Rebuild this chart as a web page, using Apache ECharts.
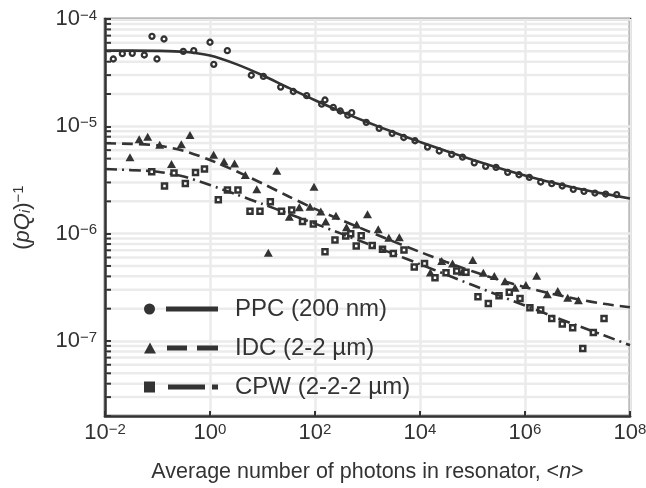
<!DOCTYPE html>
<html>
<head>
<meta charset="utf-8">
<script src="https://cdn.jsdelivr.net/npm/echarts@6/dist/echarts.min.js"></script>
<style>
  html, body { margin: 0; padding: 0; background: #ffffff; }
  #chart { width: 646px; height: 488px; }
</style>
</head>
<body>
<div id="chart"></div>
<script>
// ---------------- data ----------------
// x: average photon number <n>, y: (pQi)^-1
const ppcN = [1.44e-2, 2.14e-2, 3.31e-2, 5.61e-2, 7.85e-2, 9.77e-2, 0.133, 0.310, 0.490, 1.00,
  1.18, 2.14, 6.12, 10.4, 22.2, 38.6, 69.5, 134, 155, 223,
  303, 422, 500, 948, 1670, 2950, 4900, 8040, 1.39e4, 2.33e4,
  4.02e4, 6.46e4, 1.08e5, 1.78e5, 2.81e5, 4.68e5, 7.69e5, 1.21e6, 1.99e6, 3.23e6,
  5.13e6, 8.32e6, 1.33e7, 2.15e7, 3.44e7, 5.58e7];
const ppcQ = [4.24e-5, 4.75e-5, 4.79e-5, 4.62e-5, 6.90e-5, 4.24e-5, 6.51e-5, 5.00e-5, 5.07e-5, 6.07e-5,
  3.78e-5, 5.07e-5, 2.99e-5, 2.92e-5, 2.32e-5, 2.11e-5, 1.93e-5, 1.61e-5, 1.76e-5, 1.50e-5,
  1.39e-5, 1.27e-5, 1.34e-5, 1.09e-5, 9.58e-6, 8.61e-6, 7.87e-6, 7.34e-6, 6.41e-6, 5.89e-6,
  5.48e-6, 5.17e-6, 4.57e-6, 4.24e-6, 4.15e-6, 3.73e-6, 3.54e-6, 3.35e-6, 3.03e-6, 2.92e-6,
  2.78e-6, 2.59e-6, 2.48e-6, 2.39e-6, 2.34e-6, 2.31e-6];

const idcN = [2.99e-2, 4.48e-2, 6.50e-2, 0.110, 0.185, 0.284, 0.416, 1.17, 1.85, 2.93,
  4.70, 7.78, 12.9, 18.7, 32.4, 50.2, 80.4, 95.7, 129, 160,
  251, 398, 622, 1000, 1600, 2550, 4040, 1.58e4, 2.59e4, 4.16e4,
  6.40e4, 1.01e5, 1.61e5, 2.60e5, 4.16e5, 6.46e5, 1.04e6, 1.67e6, 2.66e6, 4.20e6,
  6.50e6, 1.04e7];
const idcQ = [5.14e-6, 7.57e-6, 8.00e-6, 6.75e-6, 4.45e-6, 6.80e-6, 8.30e-6, 5.43e-6, 4.70e-6, 4.50e-6,
  3.52e-6, 2.59e-6, 6.64e-7, 3.86e-6, 1.44e-6, 1.76e-6, 1.78e-6, 2.74e-6, 1.61e-6, 1.30e-6,
  1.47e-6, 1.15e-6, 1.22e-6, 1.52e-6, 1.10e-6, 9.16e-7, 9.24e-7, 4.34e-7, 5.56e-7, 5.28e-7,
  4.42e-7, 5.68e-7, 4.32e-7, 4.03e-7, 3.61e-7, 3.13e-7, 3.32e-7, 4.05e-7, 2.72e-7, 2.92e-7,
  2.53e-7, 2.40e-7];

const cpwN = [7.76e-2, 0.136, 0.206, 0.339, 0.530, 0.785, 1.44, 2.15, 3.41, 5.78,
  8.95, 14.1, 23.0, 36.0, 57.8, 92.9, 155, 240, 385, 479,
  610, 759, 1230, 1930, 3100, 4950, 7780, 1.22e4, 1.93e4, 3.13e4,
  5.00e4, 7.52e4, 1.27e5, 2.00e5, 3.20e5, 5.02e5, 8.04e5, 1.24e6, 1.99e6, 3.23e6,
  5.13e6, 8.09e6, 1.26e7, 2.00e7, 3.20e7];
const cpwQ = [3.78e-6, 2.78e-6, 3.67e-6, 2.94e-6, 3.71e-6, 4.00e-6, 2.07e-6, 2.55e-6, 2.55e-6, 1.62e-6,
  1.62e-6, 1.98e-6, 1.62e-6, 1.66e-6, 1.30e-6, 1.23e-6, 6.78e-7, 8.71e-7, 9.50e-7, 1.00e-6,
  7.69e-7, 9.54e-7, 7.74e-7, 7.14e-7, 6.53e-7, 7.03e-7, 4.89e-7, 5.28e-7, 3.88e-7, 4.32e-7,
  4.48e-7, 4.37e-7, 2.58e-7, 2.24e-7, 2.64e-7, 2.84e-7, 2.49e-7, 2.04e-7, 1.94e-7, 1.62e-7,
  1.44e-7, 1.33e-7, 8.53e-8, 1.20e-7, 1.62e-7];

// fitted curves, every half decade
const fitN = [1e-2, 3.16e-2, 1e-1, 3.16e-1, 1, 3.16, 10, 31.6, 100, 316, 1e3,
  3.16e3, 1e4, 3.16e4, 1e5, 3.16e5, 1e6, 3.16e6, 1e7, 3.16e7, 1e8];
const ppcFit = [5.07e-5, 5.07e-5, 5.05e-5, 4.95e-5, 4.57e-5, 3.80e-5, 2.99e-5, 2.28e-5, 1.75e-5, 1.37e-5, 1.09e-5,
  8.79e-6, 7.16e-6, 5.89e-6, 4.89e-6, 4.10e-6, 3.49e-6, 3.01e-6, 2.64e-6, 2.36e-6, 2.13e-6];
const idcFit = [6.95e-6, 6.87e-6, 6.64e-6, 5.92e-6, 4.86e-6, 3.82e-6, 2.93e-6, 2.22e-6, 1.70e-6, 1.34e-6, 1.06e-6,
  8.43e-7, 6.75e-7, 5.45e-7, 4.46e-7, 3.72e-7, 3.17e-7, 2.76e-7, 2.45e-7, 2.22e-7, 2.06e-7];
const cpwFit = [4.00e-6, 3.91e-6, 3.78e-6, 3.40e-6, 2.84e-6, 2.32e-6, 1.89e-6, 1.53e-6, 1.24e-6, 1.00e-6, 8.05e-7,
  6.47e-7, 5.19e-7, 4.15e-7, 3.32e-7, 2.66e-7, 2.14e-7, 1.72e-7, 1.39e-7, 1.13e-7, 9.14e-8];

const seriesNames = ['PPC (200 nm)', 'IDC (2-2 \u00b5m)', 'CPW (2-2-2 \u00b5m)'];

// axis ranges and tick values
const X_RANGE = [1e-2, 1e8];
const X_TICK_EXP = [-2, 0, 2, 4, 6, 8];
const Y_RANGE = [2e-8, 1e-4];
const Y_TICK_EXP = [-7, -6, -5, -4];
const MINOR_MULT = [2, 3, 4, 5, 6, 7, 8, 9];

// ---------------- build ----------------
const lg = Math.log10;
const FONT = '"Liberation Sans", Arial, Helvetica, sans-serif';
const INK = '#333333';
const GRIDC = '#ebebeb';

const pairs = (xs, ys) => xs.map((x, i) => [lg(x), lg(ys[i])]);

const minorVals = [];
[-8, -7, -6, -5].forEach(e => MINOR_MULT.forEach(k => {
  const v = k * Math.pow(10, e);
  if (v > Y_RANGE[0] * 1.001 && v < Y_RANGE[1] * 0.999) minorVals.push(v);
}));

const supText = v => String(Math.round(v)).replace('-', '\u2212');
const isInt = v => Math.abs(v - Math.round(v)) < 1e-6;

const tickRich = {
  b: { fontSize: 22, lineHeight: 22, padding: [8, 0, 0, 0], verticalAlign: 'bottom', color: INK, fontFamily: FONT },
  s: { fontSize: 15, lineHeight: 15, verticalAlign: 'top', color: INK, fontFamily: FONT }
};

const chart = echarts.init(document.getElementById('chart'), null, { renderer: 'canvas' });

const option = {
  animation: false,
  backgroundColor: '#ffffff',
  textStyle: { fontFamily: FONT, color: INK },
  grid: {
    left: 105, right: 16, top: 19, bottom: 72,
    show: true, borderColor: INK, borderWidth: 2.5, backgroundColor: 'transparent',
    containLabel: false, outerBoundsMode: 'none'
  },
  legend: {
    orient: 'vertical', left: 144, top: 297, padding: 0,
    itemWidth: 74, itemHeight: 11, itemGap: 15, selectedMode: false,
    textStyle: { fontSize: 24, lineHeight: 24, color: INK, fontFamily: FONT, padding: [0, 0, 0, 12] },
    data: [
      { name: seriesNames[0], icon: 'path://M0,5.5A5.5,5.5,0,1,1,11,5.5A5.5,5.5,0,1,1,0,5.5ZM22,3L74,3L74,8L22,8Z',
        itemStyle: { color: INK, borderWidth: 0 } },
      { name: seriesNames[1], icon: 'path://M0,11L6,0L12,11ZM23,3L43,3L43,8L23,8ZM53,3L74,3L74,8L53,8Z',
        itemStyle: { color: INK, borderWidth: 0 } },
      { name: seriesNames[2], icon: 'path://M0,0L11,0L11,11L0,11ZM24,3L61,3L61,8L24,8ZM68,3L74,3L74,8L68,8Z',
        itemStyle: { color: INK, borderWidth: 0 } }
    ]
  },
  xAxis: {
    type: 'value', min: lg(X_RANGE[0]), max: lg(X_RANGE[1]), interval: 2,
    axisLine: { show: true, onZero: false, lineStyle: { color: INK, width: 2.5 } },
    axisTick: { show: true, inside: true, length: 5, lineStyle: { color: INK, width: 2 } },
    splitLine: { show: true, lineStyle: { color: GRIDC, width: 2.5 } },
    axisLabel: {
      margin: 6, showMinLabel: true, showMaxLabel: true,
      formatter: v => X_TICK_EXP.indexOf(Math.round(v)) >= 0 && isInt(v) ? '{b|10}{s|' + supText(v) + '}' : '',
      rich: tickRich
    },
    name: '{t|Average number of photons in resonator, <}{i|n}{t|>}',
    nameLocation: 'middle', nameGap: 45,
    nameTextStyle: {
      rich: {
        t: { fontSize: 21.5, lineHeight: 22, color: INK, fontFamily: FONT },
        i: { fontSize: 21.5, lineHeight: 22, color: INK, fontFamily: FONT, fontStyle: 'italic' }
      }
    }
  },
  yAxis: {
    type: 'value', min: lg(Y_RANGE[0]), max: lg(Y_RANGE[1]), splitNumber: 4,
    axisLine: { show: true, onZero: false, lineStyle: { color: INK, width: 2.5 } },
    axisTick: { show: true, inside: true, length: 6, lineStyle: { color: INK, width: 2 } },
    splitLine: { show: true, lineStyle: { color: GRIDC, width: 2.5 } },
    axisLabel: {
      margin: 8, showMinLabel: true, showMaxLabel: true,
      formatter: v => (isInt(v) && Y_TICK_EXP.indexOf(Math.round(v)) >= 0) ? '{b|10}{s|' + supText(v) + '}' : '',
      rich: tickRich
    },
    name: '{p|(}{i|pQ}{sub|i}{p|)}{sup|\u22121}',
    nameLocation: 'middle', nameGap: 72, nameRotate: 90,
    nameTextStyle: {
      rich: {
        p: { fontSize: 22, lineHeight: 22, padding: [7, 0, 5, 0], verticalAlign: 'middle', color: INK, fontFamily: FONT },
        i: { fontSize: 22, lineHeight: 22, padding: [7, 0, 5, 0], verticalAlign: 'middle', color: INK, fontFamily: FONT, fontStyle: 'italic' },
        sub: { fontSize: 15, lineHeight: 15, verticalAlign: 'bottom', color: INK, fontFamily: FONT, fontStyle: 'italic' },
        sup: { fontSize: 15, lineHeight: 15, verticalAlign: 'top', color: INK, fontFamily: FONT }
      }
    }
  },
  series: [
    {
      name: 'minor grid', type: 'custom', silent: true, clip: false,
      data: minorVals.map(v => [lg(X_RANGE[0]), lg(v)]),
      encode: { x: 0, y: 1 },
      renderItem: (params, api) => {
        const cs = params.coordSys;
        const p = api.coord([api.value(0), api.value(1)]);
        return {
          type: 'group',
          children: [
            { type: 'line', shape: { x1: cs.x + 1.5, y1: p[1], x2: cs.x + cs.width - 1.5, y2: p[1] },
              style: { stroke: GRIDC, lineWidth: 2.5 } },
            { type: 'line', shape: { x1: cs.x, y1: p[1], x2: cs.x + 6, y2: p[1] },
              style: { stroke: INK, lineWidth: 2 } }
          ]
        };
      }
    },
    {
      name: 'PPC fit', type: 'line', data: pairs(fitN, ppcFit), showSymbol: false, silent: true,
      smooth: 0.25,
      lineStyle: { color: INK, width: 2.6, type: 'solid' }
    },
    {
      name: 'IDC fit', type: 'line', data: pairs(fitN, idcFit), showSymbol: false, silent: true,
      smooth: 0.25,
      lineStyle: { color: INK, width: 2.6, type: [11, 6] }
    },
    {
      name: 'CPW fit', type: 'line', data: pairs(fitN, cpwFit), showSymbol: false, silent: true,
      smooth: 0.25,
      lineStyle: { color: INK, width: 2.6, type: [12, 5, 2, 5] }
    },
    {
      name: seriesNames[0], type: 'scatter', data: pairs(ppcN, ppcQ), symbol: 'circle', symbolSize: 5,
      itemStyle: { color: '#ffffff', borderColor: INK, borderWidth: 2.3, opacity: 1 }
    },
    {
      name: seriesNames[1], type: 'scatter', data: pairs(idcN, idcQ), symbol: 'triangle', symbolSize: [9, 8],
      itemStyle: { color: INK, borderWidth: 0, opacity: 1 }
    },
    {
      name: seriesNames[2], type: 'scatter', data: pairs(cpwN, cpwQ), symbol: 'rect', symbolSize: 5,
      itemStyle: { color: '#ffffff', borderColor: INK, borderWidth: 2.5, opacity: 1 }
    }
  ]
};

chart.setOption(option);
</script>
</body>
</html>
